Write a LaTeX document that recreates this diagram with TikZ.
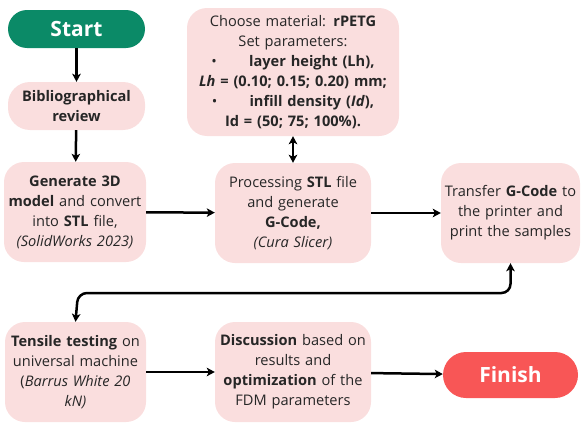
\documentclass[tikz,border=0pt]{standalone}
\usepackage{fontspec}
\setmainfont{Open Sans}
\usetikzlibrary{arrows.meta}
\definecolor{boxpink}{HTML}{FADEDE}
\definecolor{startgreen}{HTML}{0B8A67}
\definecolor{finishred}{HTML}{F85656}
\definecolor{txt}{HTML}{262626}
\tikzset{
  stepbox/.style={fill=boxpink, draw=none, rounded corners=20pt, align=center, text=txt,
    font=\fontsize{14.6}{20}\selectfont, inner sep=2pt},
  terminal/.style={draw=none, rounded corners=19pt, text=white, font=\fontsize{21}{24}\selectfont\bfseries},
  flow/.style={line width=2.5pt, -{Stealth[length=8pt,width=8.5pt,inset=2pt]}},
  flow2/.style={line width=2.5pt, {Stealth[length=8pt,width=8.5pt,inset=2pt]}-{Stealth[length=8pt,width=8.5pt,inset=2pt]}}
}
\begin{document}
\begin{tikzpicture}[x=1pt,y=1pt]
\useasboundingbox (0,0) rectangle (581,-423);
\node[terminal, fill=startgreen, minimum width=137pt, minimum height=38pt] (start) at (76.5,-29) {Start};
\node[stepbox, minimum width=137pt, minimum height=48pt, rounded corners=22pt] (bib) at (76.5,-106) {\textbf{Bibliographical}\\\textbf{review}};
\node[stepbox, minimum width=140pt, minimum height=100pt, text width=138pt] (gen) at (75,-212)
  {\textbf{Generate 3D}\\\textbf{model} and convert\\into \textbf{STL} file,\\\textit{(SolidWorks 2023)}};
\node[stepbox, minimum width=154pt, minimum height=100pt, text width=152pt] (proc) at (293,-213)
  {Processing \textbf{STL} file\\and generate\\\textbf{G-Code,}\\\textit{(Cura Slicer)}};
\node[stepbox, minimum width=210pt, minimum height=128pt, text width=208pt] (mat) at (293,-72)
  {Choose material: \textbf{rPETG}\\Set parameters:\\\textbullet\hspace{2.2em}\textbf{layer height (Lh),}\\\textbf{\textit{Lh} = (0.10; 0.15; 0.20) mm;}\\\textbullet\hspace{2.2em}\textbf{infill density (\textit{Id}),}\\\textbf{Id = (50; 75; 100\%).}};
\node[stepbox, minimum width=135pt, minimum height=100pt, text width=135pt] (trans) at (510.5,-213)
  {Transfer \textbf{G-Code} to\\the printer and\\print the samples};
\node[stepbox, minimum width=139pt, minimum height=100pt, text width=137pt] (tens) at (75.5,-372)
  {\textbf{Tensile testing} on\\universal machine\\(\textit{Barrus White 20}\\\textit{kN)}};
\node[stepbox, minimum width=154pt, minimum height=100pt, text width=152pt] (disc) at (293,-372)
  {\textbf{Discussion} based on\\results and\\\textbf{optimization} of the\\FDM parameters};
\node[terminal, fill=finishred, minimum width=135pt, minimum height=46pt, rounded corners=23pt] (fin) at (510.5,-375) {Finish};
\draw[flow] (start) -- (bib);
\draw[flow] (bib) -- (gen);
\draw[flow] (gen) -- (proc);
\draw[flow] (proc) -- (trans);
\draw[flow2] (mat) -- (proc);
\coordinate (c1) at (510.5,-293);
\coordinate (c2) at (78,-293);
\draw[flow2, rounded corners=9pt] (trans.south) -- (c1) -- (c2) -- (tens.north);
\draw[flow] (tens) -- (disc);
\draw[flow] (disc) -- (fin);
\end{tikzpicture}
\end{document}
